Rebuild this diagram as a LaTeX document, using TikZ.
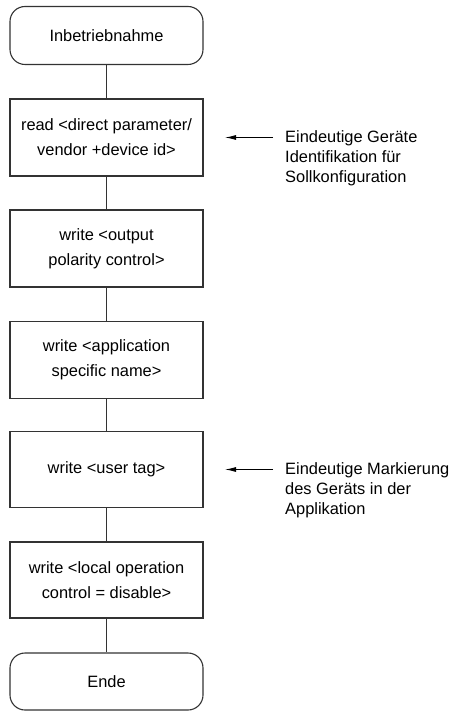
\documentclass[tikz,border=0pt]{standalone}
\usepackage{fontspec}
\setmainfont{Liberation Sans}
\usetikzlibrary{arrows.meta}
\begin{document}
\begin{tikzpicture}[x=1pt,y=1pt,
  every node/.style={font=\fontsize{16.4}{25}\selectfont},
  stepbox/.style={draw=black!80, line width=1.1pt, minimum width=193pt, minimum height=77pt, align=center, inner sep=0pt},
  term/.style={stepbox, rounded corners=15pt, minimum height=58pt},
  conn/.style={draw=black!80, line width=1.1pt},
  note/.style={anchor=base west, inner sep=0pt, font=\fontsize{16.4}{20}\selectfont},
  arr/.style={draw=black, line width=1pt, -{Latex[length=11pt,width=5pt]}}]
\useasboundingbox (0,0) rectangle (455,-711);
\node[term] (s) at (106.5,-35.5) {Inbetriebnahme};
\node[stepbox] (b1) at (106.5,-137.5) {read <direct parameter/\\vendor +device id>};
\node[stepbox] (b2) at (106.5,-248.5) {write <output\\polarity control>};
\node[stepbox] (b3) at (106.5,-360) {write <application\\specific name>};
\node[stepbox, minimum height=76pt] (b4) at (106.5,-469.5) {write <user tag>};
\node[stepbox, minimum height=76pt] (b5) at (106.5,-580) {write <local operation\\control = disable>};
\node[term, minimum height=57pt] (e) at (106.5,-681.5) {Ende};
\draw[conn] (s) -- (b1);
\draw[conn] (b1) -- (b2);
\draw[conn] (b2) -- (b3);
\draw[conn] (b3) -- (b4);
\draw[conn] (b4) -- (b5);
\draw[conn] (b5) -- (e);
\node[note] (n1) at (285,-142.5) {\begin{tabular}[t]{@{}l@{}}Eindeutige Geräte\\Identifikation für\\Sollkonfiguration\end{tabular}};
\node[note] (n2) at (285,-474.5) {\begin{tabular}[t]{@{}l@{}}Eindeutige Markierung\\des Geräts in der\\Applikation\end{tabular}};
\coordinate (a1s) at (273,-137.5);
\coordinate (a1e) at (225,-137.5);
\coordinate (a2s) at (273,-469.5);
\coordinate (a2e) at (225,-469.5);
\draw[arr] (a1s) -- (a1e);
\draw[arr] (a2s) -- (a2e);
\end{tikzpicture}
\end{document}
